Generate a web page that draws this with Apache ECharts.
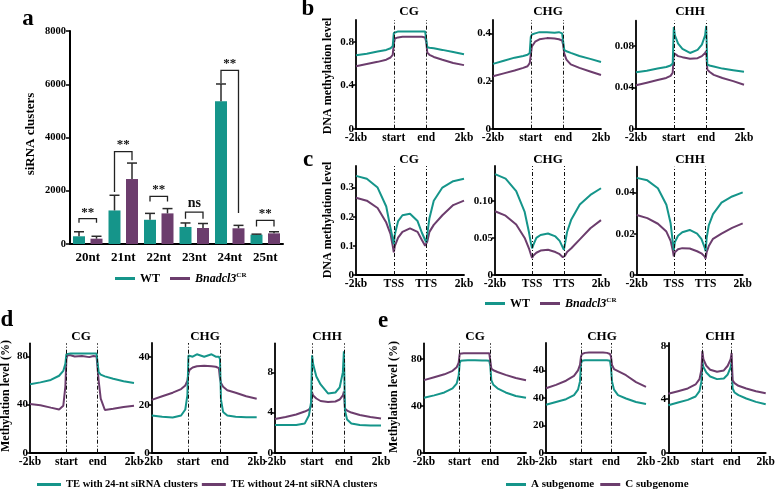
<!DOCTYPE html>
<html>
<head>
<meta charset="utf-8">
<script src="https://cdn.jsdelivr.net/npm/echarts@6/dist/echarts.min.js"></script>
<style>
html, body { margin: 0; padding: 0; background: #fff; }
#chart { width: 778px; height: 492px; }
</style>
</head>
<body>
<div id="chart"></div>
<script>
var TEAL = '#15958a';
var PURPLE = '#6c3d6d';
var FONT = '"Liberation Serif", "Times New Roman", serif';

// ---- panel a : siRNA clusters ----
var sizeCats = ['20nt', '21nt', '22nt', '23nt', '24nt', '25nt'];
var wtClusters = [290, 1260, 910, 640, 5360, 350];
var wtErr = [170, 570, 240, 150, 650, 20];
var mutClusters = [200, 2440, 1150, 600, 590, 400];
var mutErr = [90, 600, 180, 170, 110, 60];
var sigTop = [950, 3470, 1790, 1200, 6520, 890];
var sigLegWt = [800, 1950, 1600, 950, 6040, 660];
var sigLegMut = [800, 3150, 1600, 950, 1160, 660];
var sigText = ['**', '**', '**', 'ns', '**', '**'];
var aTicks = [0, 2000, 4000, 6000, 8000];
var aTickLabels = ['0', '2000', '4000', '6000', '8000'];

// ---- profiles: common x (0 = -2kb, 35 = start, 65 = end, 100 = 2kb) ----
var profX = [0, 10, 20, 28, 32, 34, 35, 36, 39, 43, 50, 57, 61, 64, 65, 66, 68, 72, 80, 90, 100];
var geneTickX = [0, 35, 65, 100];
var bodyTickLabels = ['-2kb', 'start', 'end', '2kb'];
var tssTickLabels = ['-2kb', 'TSS', 'TTS', '2kb'];

// b : gene body, WT vs Bnadcl3
var bCgWt = [0.675, 0.69, 0.71, 0.725, 0.74, 0.76, 0.88, 0.89, 0.895, 0.895, 0.895, 0.895, 0.895, 0.895, 0.89, 0.75, 0.745, 0.74, 0.725, 0.705, 0.685];
var bCgMut = [0.575, 0.595, 0.615, 0.635, 0.655, 0.68, 0.78, 0.83, 0.84, 0.845, 0.845, 0.845, 0.845, 0.84, 0.80, 0.70, 0.68, 0.66, 0.635, 0.605, 0.585];
var bChgWt = [0.272, 0.285, 0.298, 0.305, 0.31, 0.318, 0.385, 0.395, 0.40, 0.405, 0.405, 0.403, 0.405, 0.40, 0.395, 0.33, 0.325, 0.318, 0.305, 0.293, 0.28];
var bChgMut = [0.22, 0.232, 0.244, 0.255, 0.262, 0.275, 0.31, 0.345, 0.365, 0.375, 0.38, 0.378, 0.375, 0.37, 0.35, 0.315, 0.29, 0.27, 0.255, 0.24, 0.225];
var bChhWt = [0.0545, 0.056, 0.058, 0.0595, 0.061, 0.063, 0.098, 0.09, 0.082, 0.077, 0.073, 0.076, 0.081, 0.09, 0.099, 0.062, 0.061, 0.06, 0.058, 0.0565, 0.055];
var bChhMut = [0.042, 0.0445, 0.047, 0.049, 0.051, 0.054, 0.073, 0.072, 0.07, 0.069, 0.0675, 0.068, 0.07, 0.073, 0.075, 0.057, 0.055, 0.052, 0.049, 0.046, 0.0425];
var bCgTicks = [0, 0.4, 0.8], bCgLabels = ['0', '0.4', '0.8'];
var bChgTicks = [0, 0.2, 0.4], bChgLabels = ['0', '0.2', '0.4'];
var bChhTicks = [0, 0.04, 0.08], bChhLabels = ['0', '0.04', '0.08'];

// c : TSS/TTS, WT vs Bnadcl3
var cCgWt = [0.34, 0.33, 0.30, 0.235, 0.16, 0.125, 0.105, 0.14, 0.185, 0.205, 0.21, 0.185, 0.145, 0.12, 0.112, 0.14, 0.195, 0.255, 0.30, 0.322, 0.33];
var cCgMut = [0.265, 0.255, 0.23, 0.18, 0.14, 0.10, 0.078, 0.10, 0.128, 0.148, 0.16, 0.148, 0.12, 0.10, 0.095, 0.115, 0.148, 0.172, 0.205, 0.24, 0.255];
var cChgWt = [0.136, 0.13, 0.113, 0.085, 0.058, 0.042, 0.036, 0.04, 0.05, 0.054, 0.056, 0.052, 0.046, 0.037, 0.034, 0.042, 0.058, 0.075, 0.095, 0.108, 0.117];
var cChgMut = [0.086, 0.08, 0.068, 0.05, 0.036, 0.027, 0.023, 0.026, 0.03, 0.033, 0.034, 0.031, 0.028, 0.024, 0.023, 0.026, 0.031, 0.036, 0.048, 0.063, 0.074];
var cChhWt = [0.047, 0.0458, 0.042, 0.034, 0.025, 0.016, 0.012, 0.016, 0.019, 0.0207, 0.0218, 0.02, 0.0175, 0.0135, 0.0115, 0.018, 0.024, 0.0295, 0.035, 0.038, 0.040];
var cChhMut = [0.029, 0.0275, 0.0248, 0.021, 0.0165, 0.012, 0.009, 0.011, 0.0125, 0.013, 0.0128, 0.0115, 0.0105, 0.009, 0.008, 0.011, 0.014, 0.0175, 0.02, 0.0228, 0.025];
var cCgTicks = [0, 0.1, 0.2, 0.3], cCgLabels = ['0', '0.1', '0.2', '0.3'];
var cChgTicks = [0, 0.05, 0.1], cChgLabels = ['0', '0.05', '0.10'];
var cChhTicks = [0, 0.02, 0.04], cChhLabels = ['0', '0.02', '0.04'];

// d : TE with / without 24-nt siRNA clusters (%)
var dCgWith = [57, 58.5, 60.5, 64, 68, 74, 82, 82.5, 82.5, 82.5, 82.5, 82.5, 82.5, 82.5, 82, 67, 65, 63.5, 61.5, 59.5, 58];
var dCgWithout = [40.5, 39.5, 37.5, 36, 39, 55, 78, 81, 81, 80, 80.5, 79.5, 80.5, 80, 79, 60, 45, 35.5, 36.5, 38, 39];
var dChgWith = [15.5, 15, 14.7, 15.5, 18, 24, 40.5, 41, 40, 41, 40, 41, 40, 40, 39, 22, 17, 15.5, 15, 14.8, 14.8];
var dChgWithout = [22, 23.5, 25, 26.5, 28, 30, 33, 34.5, 35.5, 36, 36.2, 36, 35.8, 35.2, 31, 29, 27.5, 26, 25, 23.5, 22.5];
var dChhWith = [2.75, 2.75, 2.75, 2.9, 3.7, 5, 9.7, 8.8, 7.6, 6.8, 5.9, 6.0, 6.5, 8, 10.1, 4.2, 3.3, 2.9, 2.75, 2.7, 2.7];
var dChhWithout = [3.35, 3.55, 3.8, 4.1, 4.3, 4.6, 6.0, 5.7, 5.4, 5.15, 5.05, 5.1, 5.3, 5.7, 6.1, 4.4, 4.2, 4.0, 3.75, 3.55, 3.4];
var dCgTicks = [0, 40, 80], dCgLabels = ['0', '40', '80'];
var dChgTicks = [0, 20, 40], dChgLabels = ['0', '20', '40'];
var dChhTicks = [0, 4, 8], dChhLabels = ['0', '4', '8'];

// e : A vs C subgenome (%)
var eCgA = [47, 49, 51.5, 55, 59, 66, 76.5, 78.5, 78.8, 79, 79, 78.8, 78.8, 78.5, 74, 62, 58, 55, 51.5, 48.5, 47];
var eCgC = [62, 64.5, 67, 70, 73, 77, 84.5, 85, 85, 85, 85, 85, 85, 85, 84, 72, 70.5, 69, 66.5, 63.8, 62];
var eChgA = [35, 37, 39, 42, 46, 52, 65, 67, 67.4, 67.5, 67.4, 67.4, 67.4, 67, 62, 52, 46, 42, 39.5, 37, 35.5];
var eChgC = [47, 49.5, 52.5, 56, 60, 64, 70, 72, 72.8, 73, 73, 73, 72.8, 72, 70, 64, 61, 59.5, 56.5, 51.5, 48];
var eChhA = [3.55, 3.75, 3.95, 4.2, 4.6, 5.3, 6.8, 6.4, 6.0, 5.7, 5.5, 5.55, 5.85, 6.4, 6.8, 4.8, 4.5, 4.3, 4.05, 3.8, 3.62];
var eChhC = [4.4, 4.6, 4.8, 5.1, 5.5, 6.2, 7.6, 7.0, 6.5, 6.2, 6.05, 6.15, 6.5, 7.0, 7.45, 5.4, 5.2, 5.0, 4.8, 4.6, 4.45];
var eCgTicks = [0, 40, 80], eCgLabels = ['0', '40', '80'];
var eChgTicks = [0, 20, 40, 60], eChgLabels = ['0', '20', '40', '40'];
var eChhTicks = [0, 4, 8], eChhLabels = ['0', '4', '8'];

var WT = 'WT', MUT = 'Bnadcl3';
var TE_WITH = 'TE with 24-nt siRNA clusters', TE_WITHOUT = 'TE without 24-nt siRNA clusters';
var SUB_A = 'A subgenome', SUB_C = 'C subgenome';

var BAR_W = 12, BAR_GAP = 5.5;
var BAR_OFF = (BAR_W + BAR_GAP) / 2;

var grids = [], xAxes = [], yAxes = [], series = [];

function lookup(ticks, labels) {
    return function (v) {
        for (var i = 0; i < ticks.length; i++) {
            if (Math.abs(ticks[i] - v) < 1e-9) return labels[i];
        }
        return '';
    };
}

// bar panel
grids.push({ left: 70, top: 31, width: 213, height: 213 });
xAxes.push({
    type: 'category', gridIndex: 0, data: sizeCats,
    axisLine: { lineStyle: { color: '#000', width: 2 } },
    axisTick: { lineStyle: { color: '#000', width: 1.5 }, length: 4 },
    axisLabel: { fontFamily: FONT, fontWeight: 'bold', fontSize: 13, color: '#000', margin: 7 }
});
yAxes.push({
    type: 'value', gridIndex: 0, min: 0, max: 8000, interval: 2000,
    splitLine: { show: false },
    axisLine: { show: true, lineStyle: { color: '#000', width: 2 } },
    axisTick: { show: true, length: 4, lineStyle: { color: '#000', width: 1.5 } },
    axisLabel: { formatter: lookup(aTicks, aTickLabels), fontFamily: FONT, fontWeight: 'bold', fontSize: 10.5, color: '#000', margin: 4 }
});
series.push({ type: 'bar', name: WT, xAxisIndex: 0, yAxisIndex: 0, data: wtClusters, barWidth: BAR_W, barGap: (BAR_GAP / BAR_W * 100) + '%', color: TEAL });
series.push({ type: 'bar', name: MUT, xAxisIndex: 0, yAxisIndex: 0, data: mutClusters, barWidth: BAR_W, color: PURPLE });

series.push({
    type: 'custom', xAxisIndex: 0, yAxisIndex: 0, z: 5, silent: true,
    data: sizeCats.map(function (c, i) { return [i, wtClusters[i], wtErr[i], mutClusters[i], mutErr[i]]; }),
    renderItem: function (params, api) {
        var i = api.value(0);
        var kids = [];
        [[api.value(1), api.value(2), -BAR_OFF], [api.value(3), api.value(4), BAR_OFF]].forEach(function (e) {
            var base = api.coord([i, e[0]]);
            var top = api.coord([i, e[0] + e[1]]);
            var x = base[0] + e[2];
            kids.push({ type: 'line', shape: { x1: x, y1: base[1], x2: x, y2: top[1] }, style: { stroke: '#2a2a2a', lineWidth: 1.5 } });
            kids.push({ type: 'line', shape: { x1: x - 5, y1: top[1], x2: x + 5, y2: top[1] }, style: { stroke: '#2a2a2a', lineWidth: 1.5 } });
        });
        return { type: 'group', children: kids };
    }
});

series.push({
    type: 'custom', xAxisIndex: 0, yAxisIndex: 0, z: 6, silent: true,
    data: sizeCats.map(function (c, i) { return [i, sigTop[i], sigLegWt[i], sigLegMut[i]]; }),
    renderItem: function (params, api) {
        var i = api.value(0);
        var top = api.coord([i, api.value(1)]);
        var l = api.coord([i, api.value(2)]);
        var r = api.coord([i, api.value(3)]);
        var x1 = top[0] - BAR_OFF, x2 = top[0] + BAR_OFF;
        var txt = sigText[params.dataIndex];
        return {
            type: 'group', children: [
                { type: 'polyline', shape: { points: [[x1, l[1]], [x1, top[1]], [x2, top[1]], [x2, r[1]]] }, style: { stroke: '#222', lineWidth: 1.3, fill: null } },
                { type: 'text', x: top[0], y: top[1] - (txt == 'ns' ? 2 : 0), style: { text: txt, font: 'bold ' + (txt == 'ns' ? 14 : 13) + 'px ' + FONT, fill: '#111', align: 'center', verticalAlign: 'bottom' } }
            ]
        };
    }
});

function addProfile(p) {
    var gi = grids.length;
    grids.push({ left: p.l, top: p.t, width: p.w, height: p.h });
    xAxes.push({
        type: 'value', gridIndex: gi, min: 0, max: 100,
        splitLine: { show: false },
        axisLine: { lineStyle: { color: '#000', width: 1.8 } },
        axisTick: { show: false },
        axisLabel: {
            customValues: geneTickX, formatter: lookup(geneTickX, p.xl),
            fontFamily: FONT, fontWeight: 'bold', fontSize: 11.5, color: '#000', margin: 3
        }
    });
    yAxes.push({
        type: 'value', gridIndex: gi, min: 0, max: p.max,
        splitLine: { show: false },
        axisLine: { show: true, lineStyle: { color: '#000', width: 1.8 } },
        axisTick: { show: true, customValues: p.ticks, length: 3, lineStyle: { color: '#000', width: 1.5 } },
        axisLabel: {
            customValues: p.ticks, formatter: lookup(p.ticks, p.labels),
            fontFamily: FONT, fontWeight: 'bold', fontSize: 11, color: '#000', margin: 2
        }
    });
    p.lines.forEach(function (ln, k) {
        var s = {
            type: 'line', name: ln.name, xAxisIndex: gi, yAxisIndex: gi,
            data: profX.map(function (x, i) { return [x, ln.y[i]]; }),
            showSymbol: false, color: ln.c, lineStyle: { width: 2 }, z: 3 - k, silent: true
        };
        if (k === 0) {
            s.markLine = {
                silent: true, symbol: 'none', label: { show: false },
                lineStyle: { color: '#111', width: 1, type: [4, 2, 1, 2] },
                data: [{ xAxis: geneTickX[1] }, { xAxis: geneTickX[2] }]
            };
        }
        series.push(s);
    });
}

addProfile({ l: 356, t: 20, w: 108, h: 108.7, max: 1.0, ticks: bCgTicks, labels: bCgLabels, xl: bodyTickLabels,
    lines: [{ name: WT, c: TEAL, y: bCgWt }, { name: MUT, c: PURPLE, y: bCgMut }] });
addProfile({ l: 493, t: 20, w: 108, h: 108.7, max: 0.456, ticks: bChgTicks, labels: bChgLabels, xl: bodyTickLabels,
    lines: [{ name: WT, c: TEAL, y: bChgWt }, { name: MUT, c: PURPLE, y: bChgMut }] });
addProfile({ l: 636, t: 20.7, w: 108, h: 108.3, max: 0.104, ticks: bChhTicks, labels: bChhLabels, xl: bodyTickLabels,
    lines: [{ name: WT, c: TEAL, y: bChhWt }, { name: MUT, c: PURPLE, y: bChhMut }] });

addProfile({ l: 356, t: 166, w: 108, h: 109, max: 0.374, ticks: cCgTicks, labels: cCgLabels, xl: tssTickLabels,
    lines: [{ name: WT, c: TEAL, y: cCgWt }, { name: MUT, c: PURPLE, y: cCgMut }] });
addProfile({ l: 495, t: 166, w: 106, h: 109, max: 0.147, ticks: cChgTicks, labels: cChgLabels, xl: tssTickLabels,
    lines: [{ name: WT, c: TEAL, y: cChgWt }, { name: MUT, c: PURPLE, y: cChgMut }] });
addProfile({ l: 636.7, t: 166.7, w: 106, h: 108.3, max: 0.0524, ticks: cChhTicks, labels: cChhLabels, xl: tssTickLabels,
    lines: [{ name: WT, c: TEAL, y: cChhWt }, { name: MUT, c: PURPLE, y: cChhMut }] });

addProfile({ l: 30, t: 343.3, w: 104, h: 109.4, max: 91, ticks: dCgTicks, labels: dCgLabels, xl: bodyTickLabels,
    lines: [{ name: TE_WITH, c: TEAL, y: dCgWith }, { name: TE_WITHOUT, c: PURPLE, y: dCgWithout }] });
addProfile({ l: 151.7, t: 343, w: 105, h: 109.7, max: 45.7, ticks: dChgTicks, labels: dChgLabels, xl: bodyTickLabels,
    lines: [{ name: TE_WITH, c: TEAL, y: dChgWith }, { name: TE_WITHOUT, c: PURPLE, y: dChgWithout }] });
addProfile({ l: 275, t: 343.3, w: 106, h: 109.4, max: 10.9, ticks: dChhTicks, labels: dChhLabels, xl: bodyTickLabels,
    lines: [{ name: TE_WITH, c: TEAL, y: dChhWith }, { name: TE_WITHOUT, c: PURPLE, y: dChhWithout }] });

addProfile({ l: 424, t: 343.3, w: 102, h: 109.4, max: 93.5, ticks: eCgTicks, labels: eCgLabels, xl: bodyTickLabels,
    lines: [{ name: SUB_C, c: PURPLE, y: eCgC }, { name: SUB_A, c: TEAL, y: eCgA }] });
addProfile({ l: 546, t: 343, w: 100, h: 109.7, max: 80, ticks: eChgTicks, labels: eChgLabels, xl: bodyTickLabels,
    lines: [{ name: SUB_C, c: PURPLE, y: eChgC }, { name: SUB_A, c: TEAL, y: eChgA }] });
addProfile({ l: 668.3, t: 343, w: 100, h: 109.7, max: 8.2, ticks: eChhTicks, labels: eChhLabels, xl: bodyTickLabels,
    lines: [{ name: SUB_C, c: PURPLE, y: eChhC }, { name: SUB_A, c: TEAL, y: eChhA }] });

var legendText = {
    fontFamily: FONT, fontWeight: 'bold', fontSize: 12, color: '#000',
    rich: {
        i: { fontFamily: FONT, fontWeight: 'bold', fontStyle: 'italic', fontSize: 12, color: '#000' },
        s: { fontFamily: FONT, fontWeight: 'bold', fontSize: 7, color: '#000', verticalAlign: 'top', padding: [0, 0, 6, 0] }
    }
};
function legendFmt(name) {
    return name == MUT ? '{i|Bnadcl3}{s|CR}' : name;
}
function mkLegend(left, top, names, w, gap, size) {
    var ts = JSON.parse(JSON.stringify(legendText));
    ts.fontSize = size;
    return {
        left: left, top: top, orient: 'horizontal', data: names, icon: 'rect',
        itemWidth: w, itemHeight: 3, itemGap: gap, formatter: legendFmt,
        textStyle: ts, selectedMode: false, padding: 0
    };
}

var txt = function (x, y, s, size, rot) {
    return {
        type: 'text', x: x, y: y, rotation: rot ? Math.PI / 2 : 0, silent: true,
        style: { text: s, font: 'bold ' + size + 'px ' + FONT, fill: '#000', align: 'center', verticalAlign: 'middle' }
    };
};

var graphics = [
    txt(28, 19, 'a', 23), txt(308, 9, 'b', 23), txt(308, 160, 'c', 23), txt(7, 320, 'd', 23), txt(383, 321, 'e', 23),
    txt(409, 12, 'CG', 13), txt(548, 12, 'CHG', 13), txt(690, 12, 'CHH', 13),
    txt(409, 160, 'CG', 13), txt(548, 160, 'CHG', 13), txt(690, 160, 'CHH', 13),
    txt(81, 337, 'CG', 13), txt(205, 337, 'CHG', 13), txt(327, 337, 'CHH', 13),
    txt(475, 337, 'CG', 13), txt(602, 337, 'CHG', 13), txt(720, 337, 'CHH', 13),
    txt(31, 134, 'siRNA clusters', 13, true),
    txt(328, 76, 'DNA methylation level', 12, true),
    txt(328, 220, 'DNA methylation level', 12, true),
    txt(6, 396, 'Methylation level (%)', 12, true),
    txt(394, 397, 'Methylation level (%)', 12, true)
];

var chart = echarts.init(document.getElementById('chart'), null, { renderer: 'canvas' });
chart.setOption({
    backgroundColor: '#fff',
    animation: false,
    grid: grids,
    xAxis: xAxes,
    yAxis: yAxes,
    legend: [
        mkLegend(115, 272, [WT, MUT], 20, 10, 12),
        mkLegend(485, 297, [WT, MUT], 20, 10, 12),
        mkLegend(37, 479, [TE_WITH, TE_WITHOUT], 24, 4, 10.5),
        mkLegend(506, 479, [SUB_A, SUB_C], 20, 6, 11)
    ],
    graphic: graphics,
    series: series
});
</script>
</body>
</html>
